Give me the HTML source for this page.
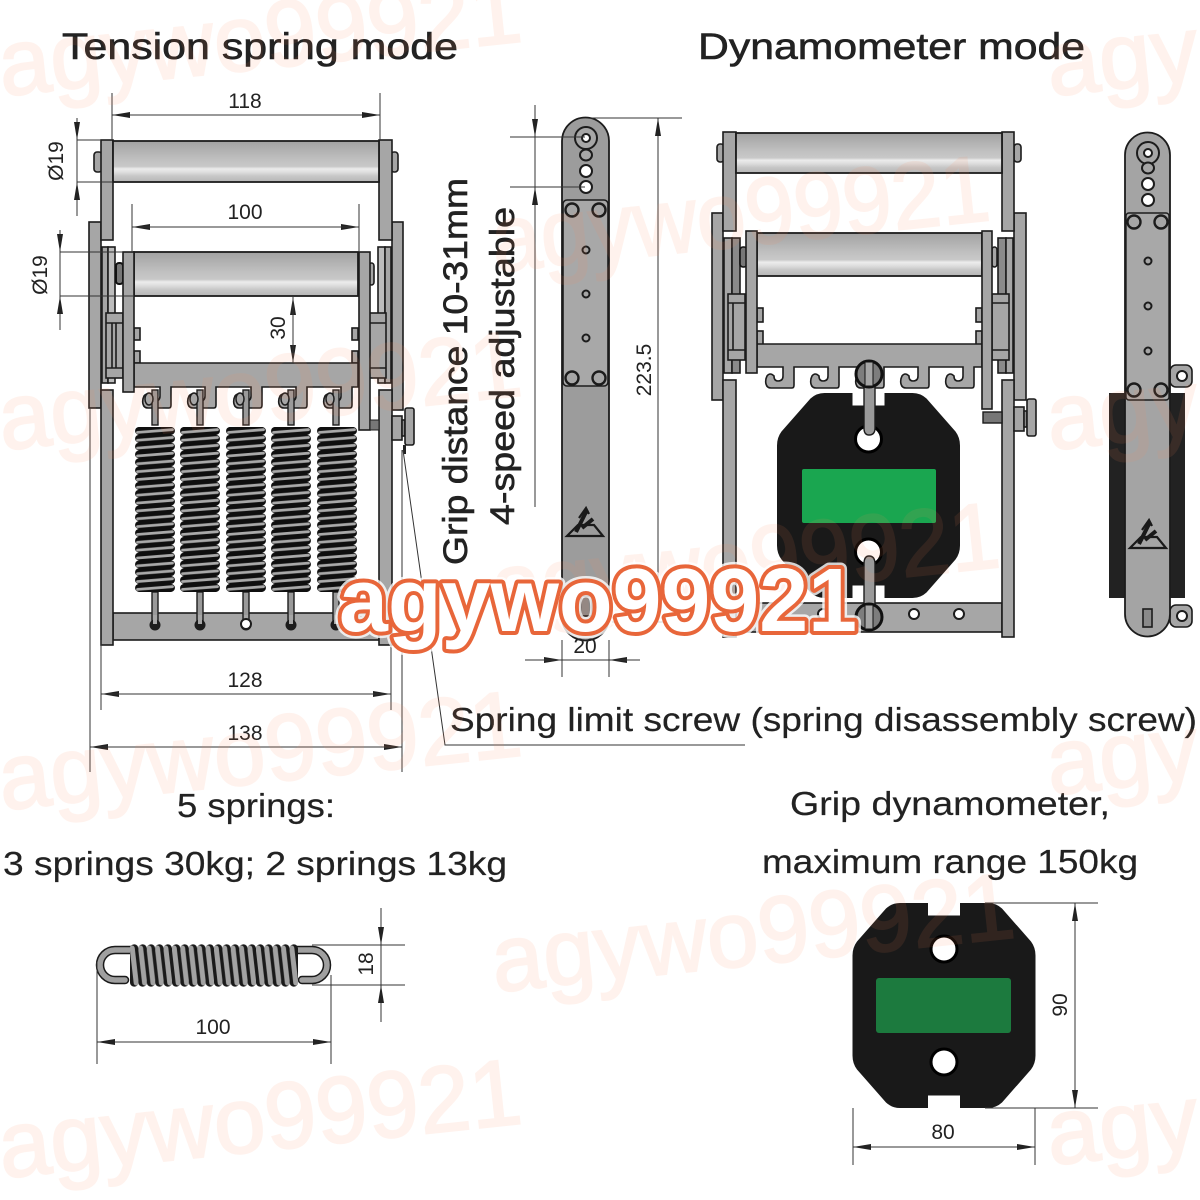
<!DOCTYPE html>
<html><head><meta charset="utf-8"><style>
html,body{margin:0;padding:0;background:#fff;width:1200px;height:1200px;overflow:hidden}
svg{display:block}
text{font-family:"Liberation Sans","DejaVu Sans",sans-serif;fill:#222}
.p{fill:#a6a6a6;stroke:#1c1c1c;stroke-width:1.6}
.d{fill:#8c8c8c;stroke:#1c1c1c;stroke-width:1.6}
.s{fill:#a8a8a8;stroke:#1c1c1c;stroke-width:1.6}
.r{fill:url(#rg);stroke:#1c1c1c;stroke-width:1.8}
.l{stroke:#333;stroke-width:1;fill:none}
.k{stroke:#1c1c1c;stroke-width:1.6;fill:none}
.n{font-size:21px;text-anchor:middle}
.t{font-size:37px;stroke:#222;stroke-width:.6}
.b{font-size:33px;stroke:#222;stroke-width:.2}
.h{fill:#fff;stroke:#1c1c1c;stroke-width:2}
.wm{font-size:94px;fill:#ff8a5a;opacity:.1;stroke:#ff8a5a;stroke-width:2}
</style></head><body>
<svg width="1200" height="1200" viewBox="0 0 1200 1200" xmlns="http://www.w3.org/2000/svg">
<defs>
<linearGradient id="rg" x1="0" y1="0" x2="0" y2="1">
<stop offset="0" stop-color="#a2a2a2"/><stop offset=".45" stop-color="#c0c0c0"/><stop offset=".62" stop-color="#c8c8c8"/><stop offset=".68" stop-color="#ececec"/><stop offset=".76" stop-color="#dedede"/><stop offset=".86" stop-color="#c6c6c6"/><stop offset="1" stop-color="#b6b6b6"/>
</linearGradient>
<pattern id="coil" patternUnits="userSpaceOnUse" x="-22" y="0" width="44" height="7.85">
<path d="M6 3.9L38 3.9" stroke="#0f0f0f" stroke-width="7.85" stroke-linecap="round"/>
<path d="M4.500 5.400L39.500 2.600" stroke="#a9a9a9" stroke-width="2.800" stroke-linecap="round"/>
</pattern>
<pattern id="coil2" patternUnits="userSpaceOnUse" x="-22" y="0" width="44" height="8.4">
<path d="M5 4.200L39 4.200" stroke="#1a1a1a" stroke-width="8.4" stroke-linecap="round"/>
<path d="M4.500 6.200L39.500 2.200" stroke="#a2a2a2" stroke-width="5" stroke-linecap="round"/>
</pattern>
<g id="sp"><rect x="-22" y="0" width="44" height="165" fill="url(#coil)"/></g>
<g id="rod">
<rect x="-3" y="-37" width="6" height="35" fill="#9a9a9a" stroke="#1c1c1c" stroke-width="1.4"/>
<rect x="-3" y="165" width="6" height="33" fill="#9a9a9a" stroke="#1c1c1c" stroke-width="1.4"/>
<ellipse cx="-6" cy="-28" rx="4" ry="6" fill="#a6a6a6" stroke="#1c1c1c" stroke-width="1.5"/>
<circle cx="0" cy="198" r="5.500" fill="#1c1c1c"/>
<rect x="-2" y="188" width="4" height="9" fill="#a6a6a6"/>
</g>
<g id="bolt"><circle r="6.500" fill="#a6a6a6" stroke="#1c1c1c" stroke-width="2.400"/></g>
<g id="dyn">
<path d="M-16 -102.500L-16 -90L16 -90L16 -102.500L44 -102.500Q52 -102.500 58 -97L87 -64Q91.500 -58 91.500 -50L91.500 50Q91.500 58 87 64L58 97Q52 102.500 44 102.500L16 102.500L16 90L-16 90L-16 102.500L-44 102.500Q-52 102.500 -58 97L-87 64Q-91.500 58 -91.500 50L-91.500 -50Q-91.500 -58 -87 -64L-58 -97Q-52 -102.500 -44 -102.500Z" fill="#191919"/>
<circle cx="0" cy="-56.500" r="13" fill="#fff" stroke="#000" stroke-width="3"/>
<circle cx="0" cy="56.500" r="13" fill="#fff" stroke="#000" stroke-width="3"/>
</g>
<g id="knob">
<rect x="0" y="8" width="10" height="24" class="p"/>
<rect x="10" y="12" width="3" height="16" class="d"/>
<rect x="13" y="0" width="9" height="37" rx="2" class="p"/>
</g>
<g id="logo" fill="none" stroke="#1a1a1a" stroke-width="2.200">
<path d="M-18 14L18 14L9 3L-7 3Z"/><path d="M-9 10L2 -12" stroke-width="4"/><path d="M-3 6L8 -3" stroke-width="4"/><path d="M-6 -4L1 -14L4 -8"/>
</g>
<g id="sideholes"><circle cx="0" cy="0" r="3.500" fill="#a6a6a6" stroke="#1c1c1c" stroke-width="2"/></g>
</defs>
<rect width="1200" height="1200" fill="#fff"/>

<!-- LEFT: TENSION SPRING MODE -->
<rect x="89" y="222" width="12" height="186" class="p"/>
<rect x="392" y="222" width="11" height="188" class="p"/>
<rect x="94" y="152" width="8" height="20" rx="3" class="p"/>
<rect x="391" y="152" width="7" height="20" rx="3" class="p"/>
<rect x="101" y="140" width="12" height="100" class="p"/>
<rect x="379" y="140" width="13" height="100" class="p"/>
<rect x="113" y="141" width="266" height="41" class="r"/>
<!-- inner strips -->
<rect x="102" y="247" width="6" height="136" class="p"/><rect x="108" y="247" width="7" height="136" fill="#bdbdbd" stroke="#1c1c1c" stroke-width="1.600"/>
<rect x="378" y="247" width="7" height="136" fill="#bdbdbd" stroke="#1c1c1c" stroke-width="1.600"/><rect x="385" y="247" width="6" height="136" class="p"/>
<rect x="106" y="313" width="17" height="65" class="p"/><path d="M106 323H123M106 368H123M112 323V368M116 323V368" class="k"/>
<rect x="369" y="313" width="17" height="65" class="p"/><path d="M369 323H386M369 368H386" class="k"/>
<rect x="116" y="263" width="7" height="21" rx="3" fill="#777" stroke="#111" stroke-width="2"/>
<rect x="369" y="263" width="5" height="22" rx="3" class="p"/>
<rect x="134" y="328" width="6" height="12" class="p"/><rect x="134" y="351" width="6" height="12" class="p"/>
<rect x="352" y="328" width="6" height="12" class="p"/><rect x="352" y="351" width="6" height="12" class="p"/>
<!-- lower frame -->
<rect x="113" y="613" width="266" height="27" class="p"/>
<rect x="101" y="390" width="12" height="255" class="p"/>
<rect x="379" y="390" width="13" height="255" class="p"/>
<!-- hook bar -->
<path class="p" d="M134 363V387H160V396Q160 401 155 401Q151 401 151 396Q147 392 144 396Q142 400 143 404Q144 408 148 408H169Q171 408 171 405V387H205V396Q205 401 200 401Q196 401 196 396Q192 392 189 396Q187 400 188 404Q189 408 193 408H214Q216 408 216 405V387H251V396Q251 401 246 401Q242 401 242 396Q238 392 235 396Q233 400 234 404Q235 408 239 408H260Q262 408 262 405V387H296V396Q296 401 291 401Q287 401 287 396Q283 392 280 396Q278 400 279 404Q280 408 284 408H305Q307 408 307 405V387H341V396Q341 401 336 401Q332 401 332 396Q328 392 325 396Q323 400 324 404Q325 408 329 408H350Q352 408 352 405V387H358V363Z"/>
<rect x="134" y="252" width="224" height="44" class="r"/>
<rect x="123" y="252" width="11" height="140" class="p"/>
<rect x="359" y="252" width="11" height="178" class="p"/>
<rect x="370" y="420" width="9" height="10" fill="#777" stroke="#1c1c1c"/>
<use href="#knob" x="392" y="408"/>
<rect x="403" y="445" width="3" height="9" fill="#222"/>
<!-- springs -->
<use href="#rod" x="155" y="427"/><use href="#rod" x="200" y="427"/><use href="#rod" x="246" y="427"/><use href="#rod" x="291" y="427"/><use href="#rod" x="336" y="427"/>
<circle cx="246" cy="624" r="5" fill="#fff" stroke="#1c1c1c" stroke-width="2"/>
<g transform="translate(155,427)"><use href="#sp"/></g>
<g transform="translate(200,427)"><use href="#sp"/></g>
<g transform="translate(246,427)"><use href="#sp"/></g>
<g transform="translate(291,427)"><use href="#sp"/></g>
<g transform="translate(337,427)"><use href="#sp"/></g>

<!-- left dims -->
<path d="M112 93V140M380 93V140M132 204V252M359 204V252M77 140H101M77 182H113M60 252H123M60 296H134M101 640V710M391 640V710M90 408V772M402 450V772" class="l"/>
<line x1="112" y1="115" x2="380" y2="115" class="l"/>
<path d="M112 115L130 112L130 118ZM380 115L362 112L362 118ZM132 227L150 224L150 230ZM359 227L341 224L341 230ZM293 297L290 315L296 315ZM293 363L290 345L296 345ZM101 694L119 691L119 697ZM391 694L373 691L373 697ZM90 747L108 744L108 750ZM402 747L384 744L384 750Z" fill="#222"/>
<line x1="132" y1="227" x2="359" y2="227" class="l"/>
<line x1="293" y1="297" x2="293" y2="363" class="l"/>
<line x1="101" y1="694" x2="391" y2="694" class="l"/>
<line x1="90" y1="747" x2="402" y2="747" class="l"/>
<path d="M77 118V216M60 230V330" class="l"/>
<path d="M77 140L74 122L80 122ZM77 182L74 200L80 200ZM60 252L57 234L63 234ZM60 296L57 314L63 314Z" fill="#222"/>
<text class="n" x="245" y="108">118</text>
<text class="n" x="245" y="219">100</text>
<text class="n" x="245" y="687">128</text>
<text class="n" x="245" y="740">138</text>
<text class="n" transform="translate(285,328) rotate(-90)">30</text>
<text class="n" transform="translate(63,161) rotate(-90)">Ø19</text>
<text class="n" transform="translate(47,275) rotate(-90)">Ø19</text>
<path d="M403 450L445 745H745" class="l" stroke-width="1.200"/>

<!-- MIDDLE SIDE VIEW -->
<path d="M562 141A23.500 23.500 0 0 1 609 141V617A23.500 23.500 0 0 1 562 617Z" fill="#9c9c9c" stroke="#1c1c1c" stroke-width="1.800"/>
<rect x="563" y="200" width="45" height="186" rx="4" fill="#a8a8a8" stroke="#1c1c1c" stroke-width="1.600"/>
<circle cx="586" cy="138" r="11" fill="#a6a6a6" stroke="#1c1c1c" stroke-width="2"/>
<circle cx="586" cy="138" r="4" fill="#fff" stroke="#1c1c1c" stroke-width="2"/>
<ellipse cx="586" cy="155" rx="6" ry="5.500" fill="#a6a6a6" stroke="#1c1c1c" stroke-width="2"/>
<circle cx="586" cy="171" r="6" class="h"/><circle cx="586" cy="187" r="6" class="h"/>
<use href="#bolt" x="572" y="210"/><use href="#bolt" x="599" y="210"/><use href="#bolt" x="572" y="378"/><use href="#bolt" x="599" y="378"/>
<use href="#sideholes" x="586" y="250"/><use href="#sideholes" x="586" y="294"/><use href="#sideholes" x="586" y="338"/>
<use href="#logo" x="585" y="522"/>
<rect x="581" y="596" width="11" height="20" fill="#888" stroke="#1c1c1c" stroke-width="1.600"/>
<path d="M535 105V507M510 137H585M510 187H585M590 118H682M658 118V622M562 640V677M609 640V677M612 622H682" class="l"/>
<path d="M535 137L532 119L538 119ZM535 187L532 205L538 205ZM658 118L655 136L661 136ZM658 622L655 604L661 604ZM562 660L544 657L544 663ZM609 660L627 657L627 663Z" fill="#222"/>
<path d="M525 660H640" class="l"/>
<text class="n" x="585" y="653">20</text>
<text class="n" transform="translate(651,370) rotate(-90)">223.5</text>

<!-- RIGHT: DYNAMOMETER MODE -->
<rect x="712" y="213" width="11" height="187" class="p"/>
<rect x="1014" y="213" width="12" height="187" class="p"/>
<rect x="717" y="144" width="7" height="18" rx="3" class="p"/>
<rect x="1014" y="144" width="7" height="18" rx="3" class="p"/>
<rect x="723" y="132" width="13" height="99" class="p"/>
<rect x="1002" y="132" width="12" height="99" class="p"/>
<rect x="736" y="133" width="266" height="40" class="r"/>
<rect x="724" y="238" width="8" height="135" class="p"/><rect x="732" y="238" width="8" height="135" fill="#8a8a8a" stroke="#1c1c1c" stroke-width="1.600"/>
<rect x="998" y="238" width="8" height="135" fill="#8a8a8a" stroke="#1c1c1c" stroke-width="1.600"/><rect x="1006" y="238" width="7" height="135" class="p"/>
<rect x="728" y="294" width="17" height="66" class="p"/><path d="M728 303H745M728 350H745M733 303V350" class="k"/>
<rect x="992" y="294" width="17" height="66" class="p"/><path d="M992 303H1009M992 350H1009" class="k"/>
<rect x="740" y="247" width="7" height="20" rx="3" fill="#777" stroke="#111" stroke-width="1.600"/><rect x="992" y="247" width="5" height="20" rx="3" class="p"/>
<rect x="757" y="308" width="6" height="14" class="p"/><rect x="757" y="331" width="6" height="14" class="p"/>
<rect x="976" y="308" width="6" height="14" class="p"/><rect x="976" y="331" width="6" height="14" class="p"/>
<rect x="736" y="603" width="266" height="29" class="p"/>
<circle cx="778" cy="614" r="5" class="h"/><circle cx="823" cy="614" r="5" class="h"/><circle cx="914" cy="614" r="5" class="h"/><circle cx="959" cy="614" r="5" class="h"/>
<rect x="723" y="380" width="13" height="257" class="p"/>
<rect x="1002" y="380" width="12" height="257" class="p"/>
<path class="p" d="M757 344V367H783V376Q783 381 778 381Q774 381 774 376Q770 372 767 376Q765 380 766 384Q767 388 771 388H792Q794 388 794 385V367H828V376Q828 381 823 381Q819 381 819 376Q815 372 812 376Q810 380 811 384Q812 388 816 388H837Q839 388 839 385V367H873V376Q873 381 868 381Q864 381 864 376Q860 372 857 376Q855 380 856 384Q857 388 861 388H882Q884 388 884 385V367H918V376Q918 381 913 381Q909 381 909 376Q905 372 902 376Q900 380 901 384Q902 388 906 388H927Q929 388 929 385V367H963V376Q963 381 958 381Q954 381 954 376Q950 372 947 376Q945 380 946 384Q947 388 951 388H972Q974 388 974 385V367H982V344Z"/>
<rect x="757" y="233" width="225" height="43" class="r"/>
<rect x="746" y="231" width="11" height="142" class="p"/>
<rect x="982" y="231" width="10" height="178" class="p"/>
<rect x="983" y="412" width="19" height="11" fill="#777" stroke="#1c1c1c" stroke-width="1.400"/>
<use href="#knob" x="1014" y="399"/>
<g transform="translate(868.500,495.500)"><use href="#dyn"/></g>
<rect x="802" y="469" width="134" height="54" rx="2" fill="#1aa650"/>
<path d="M864 385V428Q864 435 869 435Q875 435 875 428V385Z" fill="#9a9a9a" stroke="#1c1c1c" stroke-width="1.400"/>
<path d="M864 606V564Q864 556 869 556Q875 556 875 564V606Z" fill="#9a9a9a" stroke="#1c1c1c" stroke-width="1.400"/>
<circle cx="869" cy="374" r="13" fill="#7d7d7d" stroke="#111" stroke-width="3"/><rect x="865" y="362" width="8" height="24" fill="#a6a6a6" stroke="#111"/>
<circle cx="869" cy="617" r="13" fill="#7d7d7d" stroke="#111" stroke-width="3"/><rect x="865" y="605" width="8" height="24" fill="#a6a6a6" stroke="#111"/>

<!-- FAR RIGHT SIDE VIEW -->
<rect x="1170" y="365" width="22" height="22" rx="6" class="p"/><circle cx="1182" cy="376" r="5" class="h"/>
<rect x="1170" y="605" width="22" height="22" rx="6" class="p"/><circle cx="1182" cy="616" r="5" class="h"/>
<rect x="1109" y="393" width="76" height="205" fill="#222"/>
<path d="M1125 155A22.500 22.500 0 0 1 1170 155V614A22.500 22.500 0 0 1 1125 614Z" fill="#a4a4a4" stroke="#1c1c1c" stroke-width="1.800"/>
<rect x="1126" y="213" width="43" height="187" rx="3" fill="#a8a8a8" stroke="#1c1c1c" stroke-width="1.400"/>
<circle cx="1148" cy="153" r="11" fill="#a6a6a6" stroke="#1c1c1c" stroke-width="2"/><circle cx="1148" cy="153" r="4" fill="#fff" stroke="#1c1c1c" stroke-width="2"/>
<ellipse cx="1148" cy="168" rx="6" ry="5.500" fill="#a6a6a6" stroke="#1c1c1c" stroke-width="2"/>
<circle cx="1148" cy="184" r="6" class="h"/><circle cx="1148" cy="200" r="6" class="h"/>
<use href="#bolt" x="1134" y="222"/><use href="#bolt" x="1161" y="222"/><use href="#bolt" x="1134" y="390"/><use href="#bolt" x="1161" y="390"/>
<use href="#sideholes" x="1148" y="261"/><use href="#sideholes" x="1148" y="306"/><use href="#sideholes" x="1148" y="351"/>
<use href="#logo" x="1148" y="534"/>
<rect x="1143" y="609" width="9" height="18" fill="#8a8a8a" stroke="#1c1c1c" stroke-width="1.600"/>

<!-- HORIZONTAL SPRING -->
<path d="M134 950H115A15 15 0 0 0 115 980H125" fill="none" stroke="#1a1a1a" stroke-width="8.500" stroke-linecap="round"/>
<path d="M134 950H115A15 15 0 0 0 115 980H125" fill="none" stroke="#a0a0a0" stroke-width="5.500" stroke-linecap="round"/>
<path d="M294 950H312A15 15 0 0 1 312 980H302" fill="none" stroke="#1a1a1a" stroke-width="8.500" stroke-linecap="round"/>
<path d="M294 950H312A15 15 0 0 1 312 980H302" fill="none" stroke="#a0a0a0" stroke-width="5.500" stroke-linecap="round"/>
<g transform="translate(130,965.500) rotate(-90)"><rect x="-22" y="0" width="44" height="168" fill="url(#coil2)"/></g>
<path d="M97 962V1064M331 975V1064M312 945H405M312 985H405M381 908V1022M97 1042H331" class="l"/>
<path d="M97 1042L115 1039L115 1045ZM331 1042L313 1039L313 1045ZM381 945L378 927L384 927ZM381 985L378 1003L384 1003Z" fill="#222"/>
<text class="n" x="213" y="1034">100</text>
<text class="n" transform="translate(373,964) rotate(-90)">18</text>

<!-- BOTTOM DYNAMOMETER -->
<g transform="translate(944,1005.500)"><use href="#dyn"/></g>
<rect x="876" y="978" width="135" height="55" rx="3" fill="#1c7a3e"/>
<path d="M985 903H1098M985 1108H1098M1075 903V1108M853 1108V1165M1035 1108V1165M853 1147H1035" class="l"/>
<path d="M1075 903L1072 921L1078 921ZM1075 1108L1072 1090L1078 1090ZM853 1147L871 1144L871 1150ZM1035 1147L1017 1144L1017 1150Z" fill="#222"/>
<text class="n" x="943" y="1139">80</text>
<text class="n" transform="translate(1067,1005) rotate(-90)">90</text>

<!-- TEXT LABELS -->
<text class="t" x="62" y="59" textLength="396" lengthAdjust="spacingAndGlyphs">Tension spring mode</text>
<text class="t" x="698" y="59" textLength="387" lengthAdjust="spacingAndGlyphs">Dynamometer mode</text>
<text class="t" transform="translate(467,565) rotate(-90)" textLength="387" lengthAdjust="spacingAndGlyphs" style="font-size:34px">Grip distance 10-31mm</text>
<text class="t" transform="translate(514,525) rotate(-90)" textLength="318" lengthAdjust="spacingAndGlyphs" style="font-size:34px">4-speed adjustable</text>
<text class="b" x="450" y="731" textLength="747" lengthAdjust="spacingAndGlyphs">Spring limit screw (spring disassembly screw)</text>
<text class="b" x="177" y="817" textLength="158" lengthAdjust="spacingAndGlyphs">5 springs:</text>
<text class="b" x="3" y="875" textLength="504" lengthAdjust="spacingAndGlyphs">3 springs 30kg; 2 springs 13kg</text>
<text class="b" x="790" y="815" textLength="320" lengthAdjust="spacingAndGlyphs">Grip dynamometer,</text>
<text class="b" x="762" y="873" textLength="376" lengthAdjust="spacingAndGlyphs">maximum range 150kg</text>

<!-- PALE WATERMARKS -->
<g>
<text class="wm" transform="translate(2,96) rotate(-6)" textLength="525" lengthAdjust="spacingAndGlyphs">agywo99921</text>
<text class="wm" transform="translate(2,450) rotate(-6)" textLength="525" lengthAdjust="spacingAndGlyphs">agywo99921</text>
<text class="wm" transform="translate(2,810) rotate(-6)" textLength="525" lengthAdjust="spacingAndGlyphs">agywo99921</text>
<text class="wm" transform="translate(2,1178) rotate(-6)" textLength="525" lengthAdjust="spacingAndGlyphs">agywo99921</text>
<text class="wm" transform="translate(495,272) rotate(-6)" textLength="500" lengthAdjust="spacingAndGlyphs">agywo99921</text>
<text class="wm" transform="translate(495,620) rotate(-6)" textLength="510" lengthAdjust="spacingAndGlyphs">agywo99921</text>
<text class="wm" transform="translate(495,992) rotate(-6)" textLength="525" lengthAdjust="spacingAndGlyphs">agywo99921</text>
<text class="wm" transform="translate(1050,96) rotate(-6)">agy</text>
<text class="wm" transform="translate(1050,450) rotate(-6)">agy</text>
<text class="wm" transform="translate(1050,795) rotate(-6)">agy</text>
<text class="wm" transform="translate(1050,1165) rotate(-6)">agy</text>
</g>

<!-- MAIN WATERMARK -->
<g style="font-size:90px;font-weight:bold">
<text x="339" y="631" textLength="518" lengthAdjust="spacingAndGlyphs" style="fill:#fff;stroke:#fff;stroke-width:13;stroke-linejoin:round;opacity:.8">agywo99921</text>
<text x="339" y="631" textLength="518" lengthAdjust="spacingAndGlyphs" style="fill:#e8663a;stroke:#e8663a;stroke-width:8;stroke-linejoin:round">agywo99921</text>
<text x="339" y="631" textLength="518" lengthAdjust="spacingAndGlyphs" style="fill:#fff;stroke:none">agywo99921</text>
</g>
</svg>
</body></html>
